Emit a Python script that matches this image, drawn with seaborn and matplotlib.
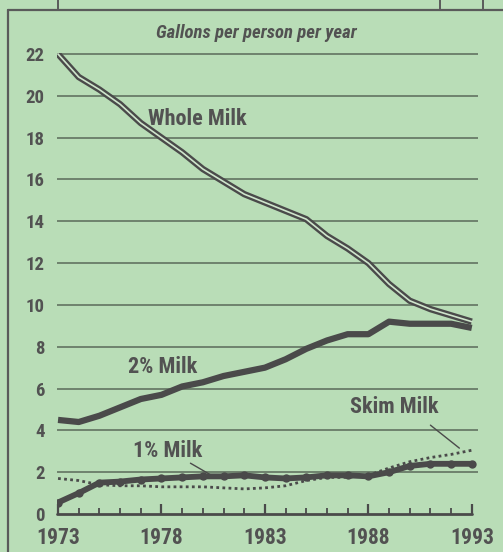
import numpy as np
import pandas as pd
import matplotlib
matplotlib.use("Agg")
import matplotlib.pyplot as plt
import seaborn as sns
from matplotlib import font_manager
from matplotlib.lines import Line2D

# Data (gallons per person per year)
years = list(range(1973, 1994))
whole_milk = [22.0, 20.9, 20.3, 19.6, 18.7, 18.0, 17.3, 16.5, 15.9, 15.3, 14.9,
              14.5, 14.1, 13.3, 12.7, 12.0, 11.0, 10.2, 9.8, 9.5, 9.2]
two_pct = [4.5, 4.4, 4.7, 5.1, 5.5, 5.7, 6.1, 6.3, 6.6, 6.8, 7.0,
           7.4, 7.9, 8.3, 8.6, 8.6, 9.2, 9.1, 9.1, 9.1, 8.9]
one_pct = [0.55, 1.0, 1.5, 1.55, 1.65, 1.7, 1.75, 1.8, 1.8, 1.85, 1.75,
           1.7, 1.75, 1.85, 1.85, 1.8, 2.0, 2.3, 2.4, 2.4, 2.4]
skim = [1.7, 1.6, 1.4, 1.35, 1.35, 1.3, 1.3, 1.3, 1.25, 1.2, 1.25,
        1.35, 1.6, 1.75, 1.75, 1.85, 2.2, 2.5, 2.7, 2.85, 3.05]
y_ticks = list(range(0, 24, 2))
x_ticks = [1973, 1978, 1983, 1988, 1993]

df = pd.DataFrame({"Year": years, "Whole": whole_milk, "Two": two_pct,
                   "One": one_pct, "Skim": skim})

BG = "#b9ddb7"
INK = "#4a4a4a"
TXT = "#525252"

sns.set_theme(style="ticks")

# pick a narrow face that has a bold cut
fonts = font_manager.fontManager.ttflist
def wt(f):
    w = f.weight
    if isinstance(w, str):
        return {"bold": 700, "heavy": 800, "black": 900, "semibold": 600,
                "demibold": 600}.get(w.lower(), 400)
    return int(w)
narrow_bold = sorted({f.name for f in fonts
                      if ("Narrow" in f.name or "Condensed" in f.name) and wt(f) >= 700})
pref = [n for n in narrow_bold if "Liberation" in n] + [n for n in narrow_bold if "Roboto" in n] + narrow_bold
if pref:
    plt.rcParams["font.family"] = [pref[0], "DejaVu Sans"]
    SHRINK = 1.0
else:
    plt.rcParams["font.family"] = ["DejaVu Sans"]
    SHRINK = 0.8

fig = plt.figure(figsize=(5.03, 5.52), dpi=100, facecolor=BG)
ax = fig.add_axes([57 / 503, (552 - 514) / 552, (478 - 57) / 503, (514 - 53) / 552])
ax.set_facecolor(BG)

# horizontal grid lines (not at zero)
for v in y_ticks[1:]:
    ax.axhline(v, color="#5a6a5a", lw=1.1, zorder=1)

# series
sns.lineplot(data=df, x="Year", y="Skim", ax=ax, color=INK, lw=2.0,
             linestyle=(0, (1, 1.2)), zorder=3)
sns.lineplot(data=df, x="Year", y="One", ax=ax, color=INK, lw=4.2,
             marker="o", markersize=6, markeredgewidth=0, zorder=4)
sns.lineplot(data=df, x="Year", y="Two", ax=ax, color=INK, lw=4.5,
             solid_capstyle="butt", zorder=4)
sns.lineplot(data=df, x="Year", y="Whole", ax=ax, color=INK, lw=4.6,
             solid_capstyle="butt", zorder=4)
sns.lineplot(data=df, x="Year", y="Whole", ax=ax, color="#cfe5cc", lw=1.2,
             zorder=5)

ax.set_xlim(1972.95, 1993.3)
ax.set_ylim(0, 22.05)
ax.set_xlabel("")
ax.set_ylabel("")

for s in ["top", "right", "left", "bottom"]:
    ax.spines[s].set_visible(False)

# baseline from first to last year
ax.axhline(0, xmin=0.0, xmax=0.985, color=INK, lw=2.0, zorder=6, clip_on=False)

ax.set_xticks(x_ticks)
ax.set_xticks(years, minor=True)
ax.tick_params(axis="x", which="major", bottom=True, direction="in", length=7,
               width=1.6, color=INK, pad=9, labelsize=15.5 * SHRINK, labelcolor=TXT)
ax.tick_params(axis="x", which="minor", bottom=True, direction="in", length=4,
               width=1.3, color=INK)
for lab in ax.get_xticklabels():
    lab.set_fontweight("bold")

ax.set_yticks(y_ticks)
ax.tick_params(axis="y", left=False, length=0, pad=9, labelsize=13.5 * SHRINK,
               labelcolor=TXT)
for lab in ax.get_yticklabels():
    lab.set_fontweight("bold")

# title and series labels
fig.text(256 / 503, 1 - 33 / 552, "Gallons per person per year", ha="center",
         va="center", fontsize=13.5 * SHRINK, fontweight="bold", style="italic", color=TXT)
lab_kw = dict(fontsize=16 * SHRINK, fontweight="bold", color=TXT, va="center", zorder=6)
ax.text(1977.35, 18.9, "Whole Milk", ha="left", **lab_kw)
ax.text(1976.4, 7.05, "2% Milk", ha="left", **lab_kw)
ax.text(1987.1, 5.1, "Skim Milk", ha="left", **lab_kw)
ax.text(1976.6, 3.0, "1% Milk", ha="left", **lab_kw)

# leader lines
ax.plot([1991.0, 1992.4], [4.25, 3.15], color=INK, lw=1.0, zorder=6)
ax.plot([1979.4, 1980.5], [2.43, 1.8], color=INK, lw=1.0, zorder=6)

# panel frame
fig.add_artist(Line2D([8 / 503, 8 / 503], [0, 1 - 10 / 552], color="#5a5a5a", lw=1.6))
fig.add_artist(Line2D([8 / 503, 1], [1 - 10 / 552, 1 - 10 / 552], color="#5a5a5a", lw=1.6))
for xp in [58, 440, 483]:
    fig.add_artist(Line2D([xp / 503, xp / 503], [1 - 10 / 552, 1], color="#5a5a5a", lw=1.4))

fig.savefig("out.png", dpi=100, facecolor=BG)
